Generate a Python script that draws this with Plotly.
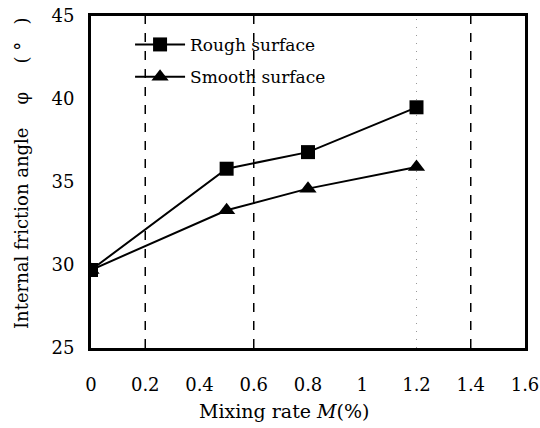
import plotly.graph_objects as go

# Mixing rate M (%) and internal friction angle (degrees)
mixing_rate = [0, 0.5, 0.8, 1.2]
rough_angle = [29.7, 35.8, 36.8, 39.5]
smooth_angle = [29.7, 33.3, 34.6, 35.9]

x_ticks = [0, 0.2, 0.4, 0.6, 0.8, 1, 1.2, 1.4, 1.6]
x_tick_text = ["0", "0.2", "0.4", "0.6", "0.8", "1", "1.2", "1.4", "1.6"]
y_ticks = [25, 30, 35, 40, 45]

dashed_x = [0.2, 0.6, 1.4]
dotted_x = [1.2]

FONT = "DejaVu Serif"
NB = "&nbsp;"

fig = go.Figure()

fig.add_trace(go.Scatter(
    x=mixing_rate, y=rough_angle, name="Rough surface",
    mode="lines+markers", legend="legend",
    line=dict(color="black", width=2),
    marker=dict(symbol="square", size=14, color="black"),
))
fig.add_trace(go.Scatter(
    x=mixing_rate, y=smooth_angle, name="Smooth surface",
    mode="lines+markers", legend="legend2",
    line=dict(color="black", width=2),
    marker=dict(symbol="triangle-up", size=15, color="black"),
))

for xv in dashed_x:
    fig.add_shape(type="line", xref="x", yref="paper", x0=xv, x1=xv, y0=0, y1=1,
                  line=dict(color="black", width=1.5, dash="dash"), layer="below")
for xv in dotted_x:
    fig.add_shape(type="line", xref="x", yref="paper", x0=xv, x1=xv, y0=0, y1=1,
                  line=dict(color="#999", width=1, dash="1px,7px"), layer="below")

legend_style = dict(
    x=0.09, xanchor="left", yanchor="middle",
    bgcolor="rgba(0,0,0,0)", itemwidth=50,
    font=dict(family=FONT, size=17),
)

fig.update_layout(
    width=540, height=428,
    margin=dict(l=91, r=15, t=16, b=80),
    paper_bgcolor="white", plot_bgcolor="white",
    font=dict(family=FONT, color="black", size=16),
    showlegend=True,
    legend=dict(y=0.913, **legend_style),
    legend2=dict(y=0.816, **legend_style),
    xaxis=dict(
        range=[0, 1.6], tickvals=x_ticks, ticktext=x_tick_text,
        showgrid=False, zeroline=False, automargin=False,
        showline=True, linecolor="black", linewidth=3, mirror=True,
        ticks="", tickfont=dict(size=18, family=FONT), ticklabelstandoff=18,
    ),
    yaxis=dict(
        range=[25, 45], tickvals=y_ticks,
        showgrid=False, zeroline=False, automargin=False,
        showline=True, linecolor="black", linewidth=3, mirror=True,
        ticks="", tickfont=dict(size=18, family=FONT), ticklabelstandoff=10,
    ),
    annotations=[
        dict(
            text="Mixing rate <i>M</i>(%)", xref="paper", yref="paper",
            x=(284 - 91) / 434, y=-(411 - 348) / 332, xanchor="center", yanchor="middle",
            showarrow=False, font=dict(size=19, family=FONT),
        ),
        dict(
            text="Internal friction angle" + NB * 4 + "φ" + NB * 5 + "(" + NB + "°" + NB * 3 + ")",
            xref="paper", yref="paper",
            x=-(91 - 21) / 434, y=(348 - 173) / 332, xanchor="center", yanchor="middle",
            textangle=-90, showarrow=False, font=dict(size=18, family=FONT),
        ),
    ],
)

fig.write_html("out.html")
